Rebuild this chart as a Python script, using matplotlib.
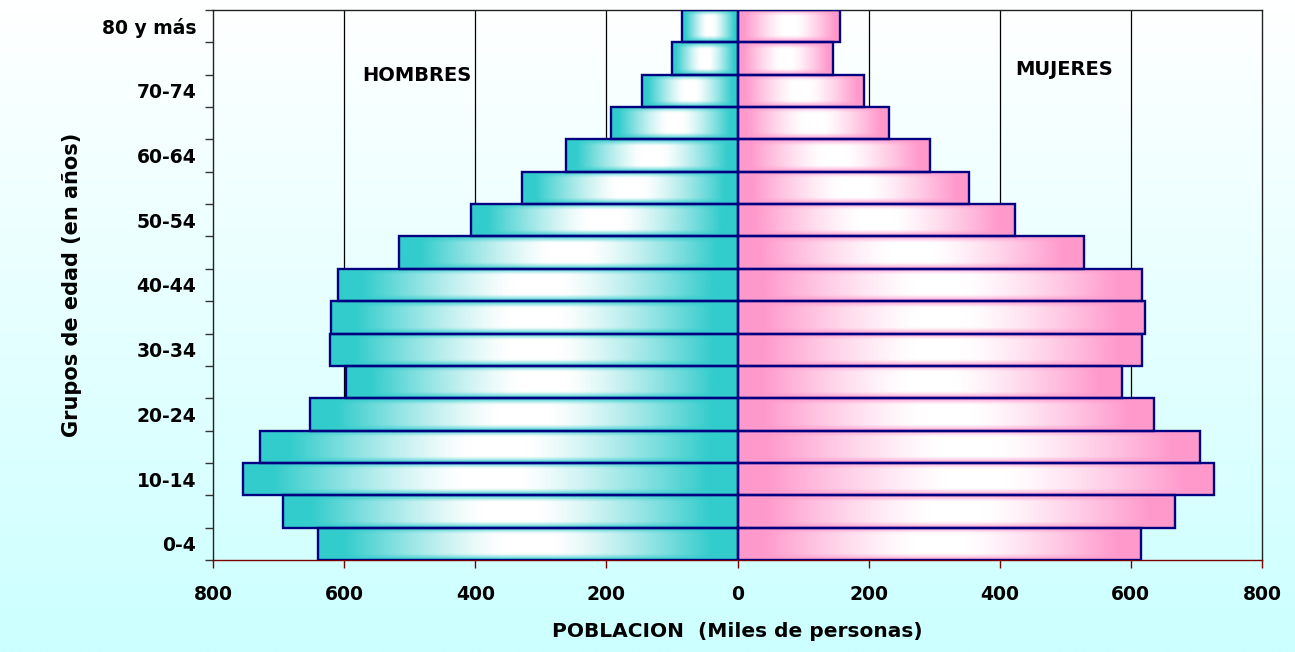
import numpy as np
import matplotlib
matplotlib.use("Agg")
import matplotlib.pyplot as plt
from matplotlib.colors import to_rgb

# age groups, bottom to top
grupos = ["0-4", "5-9", "10-14", "15-19", "20-24", "25-29", "30-34", "35-39",
          "40-44", "45-49", "50-54", "55-59", "60-64", "65-69", "70-74",
          "75-79", "80 y más"]
# thousands of people
hombres = [640, 693, 754, 729, 652, 597, 621, 620, 610, 516, 407, 328, 261,
           193, 146, 100, 85]
mujeres = [615, 668, 727, 705, 636, 587, 617, 621, 617, 528, 423, 353, 294,
           231, 193, 146, 157]
xticks = [-800, -600, -400, -200, 0, 200, 400, 600, 800]

color_h = "#33CCCC"
color_m = "#FF99CC"
borde = "#000080"


def gradient_image(c, nx=200, ny=40):
    """Rectangular 'from center' shading: white in the middle, colour at the edges."""
    u = np.abs(np.linspace(-1, 1, nx))[None, :]
    v = np.abs(np.linspace(-1, 1, ny))[:, None]
    fu = np.clip((u - 0.12) / 0.76, 0, 1) ** 1.3
    fv = np.clip((v - 0.6) / 0.4, 0, 1) ** 1.3
    f = 1 - (1 - fu) * (1 - fv)
    rgb = np.array(to_rgb(c))
    img = (1 - f)[..., None] * np.ones(3) + f[..., None] * rgb
    return img


fig = plt.figure(figsize=(12.95, 6.52), dpi=100)

# background gradient for the whole figure
bg = fig.add_axes([0, 0, 1, 1], zorder=-10)
col = np.linspace(0, 1, 256)[:, None]
top = np.array([1.0, 1.0, 1.0])
bot = np.array(to_rgb("#CCFFFF"))
bg_img = (1 - col)[..., None] * top + col[..., None] * bot
bg.imshow(np.repeat(bg_img, 2, axis=1), aspect="auto", extent=(0, 1, 0, 1))
bg.set_axis_off()

ax = fig.add_axes([0.1645, 0.1411, 0.81, 0.8436])
ax.set_facecolor("none")

y = np.arange(len(grupos))

# vertical gridlines
for gx in [-600, -400, -200, 200, 400, 600]:
    ax.axvline(gx, color="black", lw=0.9, zorder=0)

img_h = gradient_image(color_h)
img_m = gradient_image(color_m)
for yi, h, m in zip(y, hombres, mujeres):
    ax.imshow(img_h, extent=(-h, 0, yi - 0.5, yi + 0.5), aspect="auto",
              interpolation="bilinear", zorder=2)
    ax.imshow(img_m, extent=(0, m, yi - 0.5, yi + 0.5), aspect="auto",
              interpolation="bilinear", zorder=2)

ax.barh(y, [-h for h in hombres], height=1.0, fill=False, edgecolor=borde,
        lw=1.7, zorder=3)
ax.barh(y, mujeres, height=1.0, fill=False, edgecolor=borde, lw=1.7, zorder=3)

ax.set_xlim(-800, 800)
ax.set_ylim(-0.5, len(grupos) - 0.5)

# ticks
ax.set_xticks(xticks)
ax.set_xticklabels([str(abs(t)) for t in xticks], fontsize=13.5,
                   fontweight="bold")
ax.tick_params(axis="x", direction="out", length=6, width=1, color="#800000",
               pad=12)

ax.set_yticks(y[::2])
ax.set_yticklabels(grupos[::2], fontsize=13.5, fontweight="bold")
ax.set_yticks(np.arange(-0.5, len(grupos), 1.0), minor=True)
ax.tick_params(axis="y", which="major", length=0, pad=12)
ax.tick_params(axis="y", which="minor", direction="out", length=6, width=1,
               color="#333333")

for s in ["top", "right", "left"]:
    ax.spines[s].set_color("#222222")
    ax.spines[s].set_linewidth(1)
ax.spines["bottom"].set_color("#800000")
ax.spines["bottom"].set_linewidth(1)

ax.set_xlabel("POBLACION  (Miles de personas)", fontsize=14.5,
              fontweight="bold", labelpad=13)
ax.set_ylabel("Grupos de edad (en años)", fontsize=15, fontweight="bold",
              labelpad=14)

ax.text(0.1945, 0.88, "HOMBRES", transform=ax.transAxes, ha="center",
        va="center", fontsize=14, fontweight="bold")
ax.text(0.811, 0.891, "MUJERES", transform=ax.transAxes, ha="center",
        va="center", fontsize=14, fontweight="bold")

fig.savefig("out.png", dpi=100)
